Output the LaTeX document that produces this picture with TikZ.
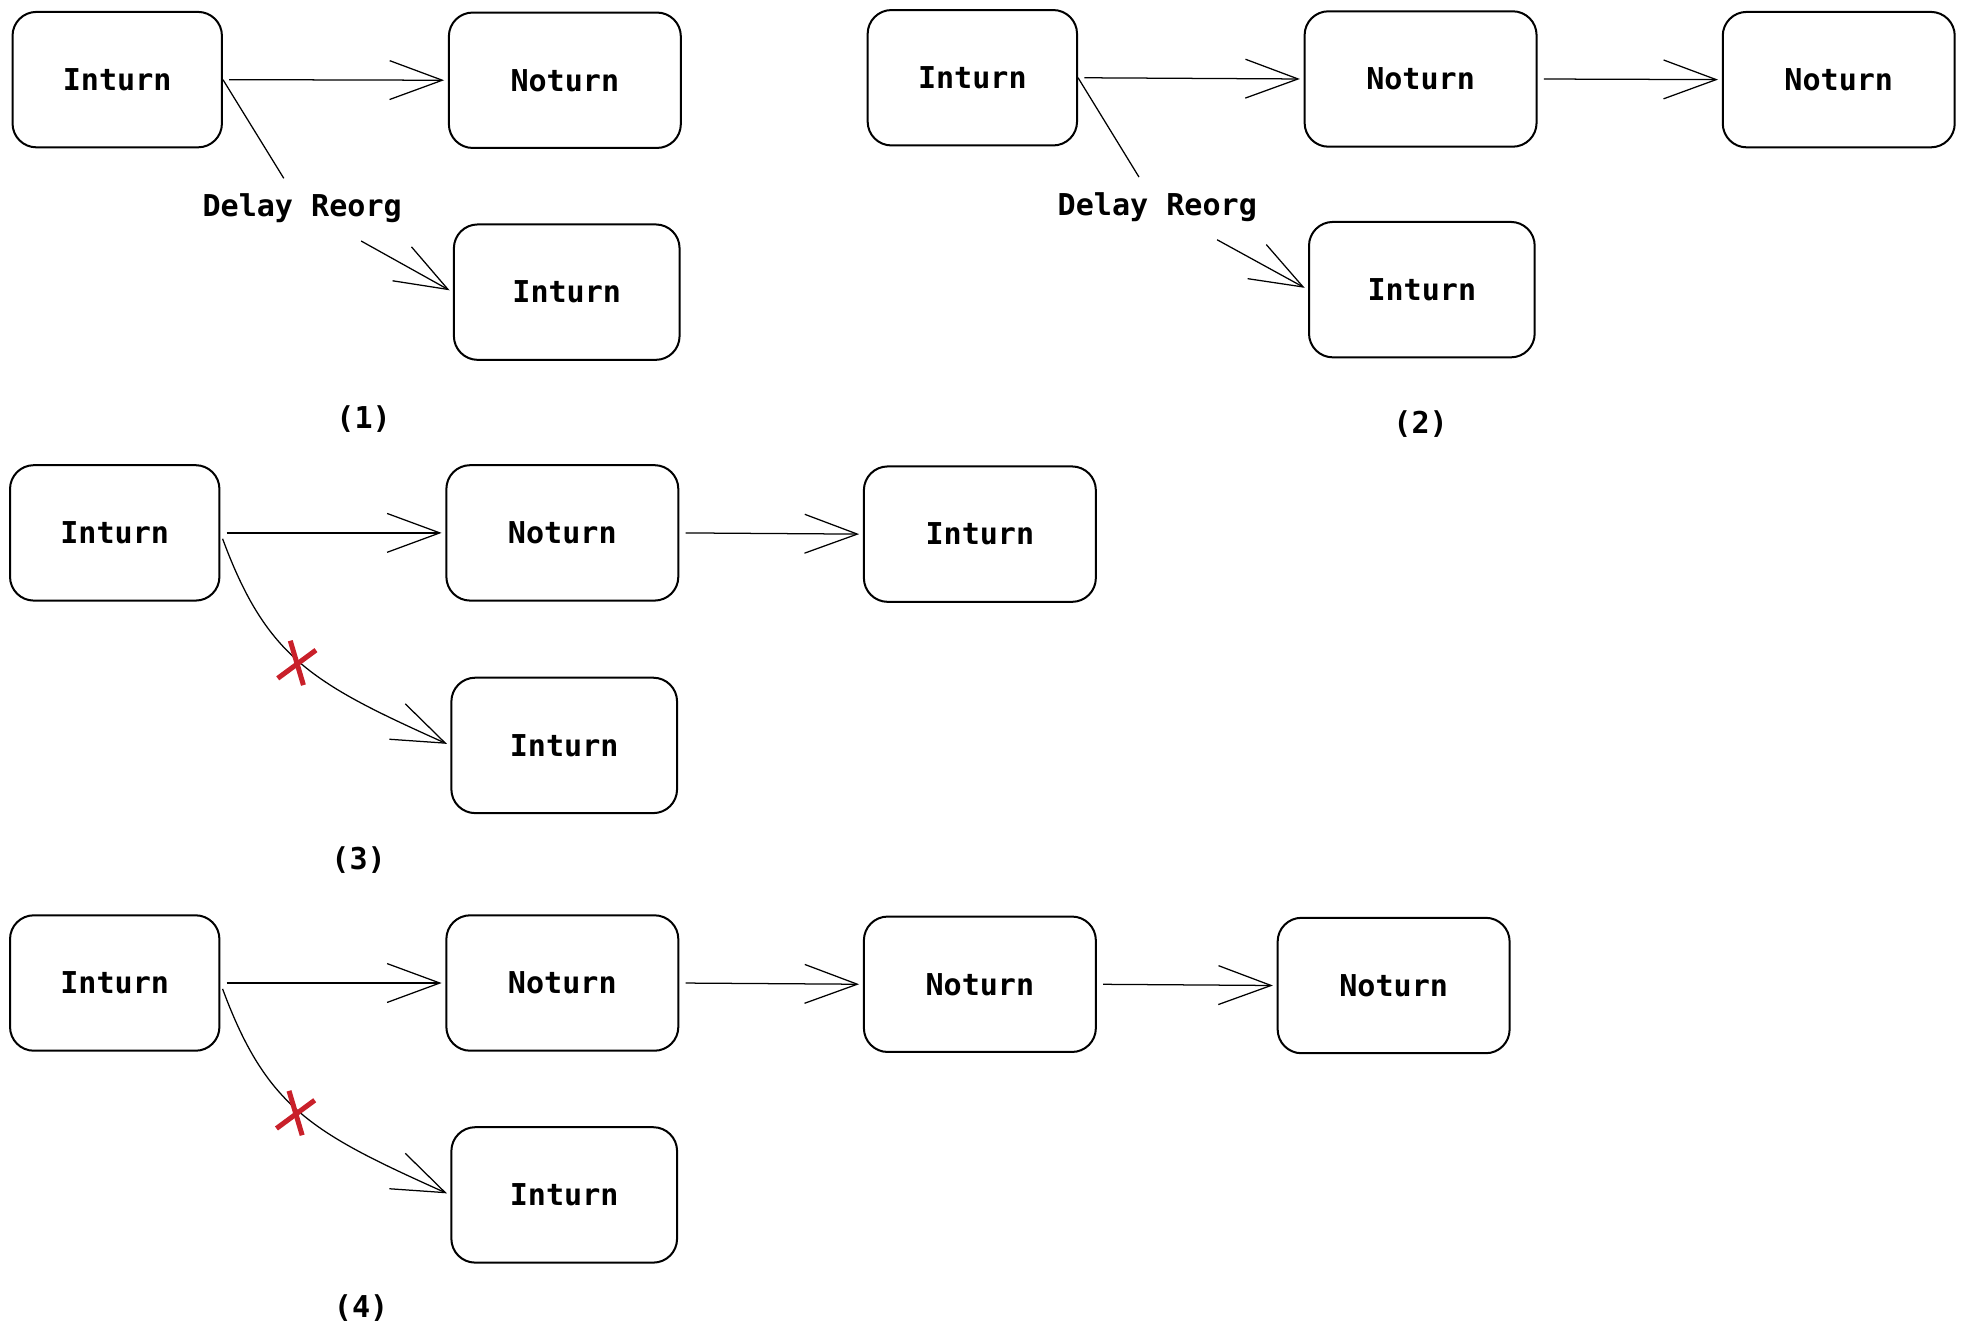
\documentclass[tikz,border=0pt]{standalone}
\usepackage{fontspec}
\setmonofont{DejaVu Sans Mono}
\usetikzlibrary{arrows.meta,positioning,calc}
\definecolor{cutred}{RGB}{201,32,42}

\begin{document}
\begin{tikzpicture}[x=1pt,y=-1pt]

  \tikzstyle{every node}=[font=\fontsize{24}{28}\selectfont\ttfamily\bfseries]

  \tikzset{block/.style={draw, rounded corners=19pt, line width=1.6pt,
      minimum height=108pt, inner sep=0pt},
    shortblock/.style={block, minimum width=167pt},
    wideblock/.style={block, minimum width=185pt},
    midblock/.style={block, minimum width=180pt},
    myarr/.style={-{Straight Barb[length=42pt,width=31pt]}, line width=1pt,
      shorten <=5pt, shorten >=3pt},
    reorg/.style={inner xsep=2pt, inner ysep=12pt},
    cut/.style={cutred, line width=4pt}}

  \useasboundingbox (0,0) rectangle (1568,1066);

  % Case (1)
  \node[shortblock] (Inturn 1) at (93.5,63.5) {Inturn};
  \node[wideblock] (Noturn 1) at (450.5,64) {Noturn};
  \node[midblock] (Inturn 1 reorg) at (452,233) {Inturn};
  \node[reorg] (Delay 1) at (241,166) {Delay Reorg};
  \draw[myarr] (Inturn 1.east) -- (Noturn 1.west);
  \draw[myarr] (Inturn 1.east) -- (Delay 1) -- (Inturn 1 reorg.west);
  \node (case 1) at (290,334) {(1)};

  % Case (2)
  \node[shortblock] (Inturn 2) at (775.5,62) {Inturn};
  \node[wideblock] (Noturn 2) at (1133,63) {Noturn};
  \node[wideblock] (Noturn 2 next) at (1466.5,63.5) {Noturn};
  \node[midblock] (Inturn 2 reorg) at (1134,231) {Inturn};
  \node[reorg] (Delay 2) at (923,165) {Delay Reorg};
  \draw[myarr] (Inturn 2.east) -- (Noturn 2.west);
  \draw[myarr] (Noturn 2.east) -- (Noturn 2 next.west);
  \draw[myarr] (Inturn 2.east) -- (Delay 2) -- (Inturn 2 reorg.west);
  \node (case 2) at (1133,338) {(2)};

  % Case (3)
  \node[shortblock] (Inturn 3) at (91.5,425) {Inturn};
  \node[wideblock] (Noturn 3) at (448.5,425) {Noturn};
  \node[wideblock] (Inturn 3 next) at (781.5,426) {Inturn};
  \node[midblock] (Inturn 3 reorg) at (450,594.5) {Inturn};
  \draw[myarr] (Inturn 3.east) -- (Noturn 3.west);
  \draw[myarr] (Noturn 3.east) -- (Inturn 3 next.west);
  \draw[myarr] (Inturn 3.east) .. controls +(37,100) and +(-110,-49.5) .. (Inturn 3 reorg.west);
  % reorg is cut off
  \coordinate (cut 3) at (237,529);
  \draw[cut] ($(cut 3) + (15,-10.5)$) -- ($(cut 3) + (-15.5,12)$);
  \draw[cut] ($(cut 3) + (-5.5,-18)$) -- ($(cut 3) + (5,17.4)$);
  \node (case 3) at (286,686) {(3)};

  % Case (4)
  \node[shortblock] (Inturn 4) at (91.5,784) {Inturn};
  \node[wideblock] (Noturn 4) at (448.5,784) {Noturn};
  \node[wideblock] (Noturn 4 next) at (781.5,785) {Noturn};
  \node[wideblock] (Noturn 4 last) at (1111.5,786) {Noturn};
  \node[midblock] (Inturn 4 reorg) at (450,953) {Inturn};
  \draw[myarr] (Inturn 4.east) -- (Noturn 4.west);
  \draw[myarr] (Noturn 4.east) -- (Noturn 4 next.west);
  \draw[myarr] (Noturn 4 next.east) -- (Noturn 4 last.west);
  \draw[myarr] (Inturn 4.east) .. controls +(37,100) and +(-110,-49.5) .. (Inturn 4 reorg.west);
  % reorg is cut off
  \coordinate (cut 4) at (236,888);
  \draw[cut] ($(cut 4) + (15,-10.5)$) -- ($(cut 4) + (-15.5,12)$);
  \draw[cut] ($(cut 4) + (-5.5,-18)$) -- ($(cut 4) + (5,17.4)$);
  \node (case 4) at (288,1043) {(4)};

\end{tikzpicture}
\end{document}
